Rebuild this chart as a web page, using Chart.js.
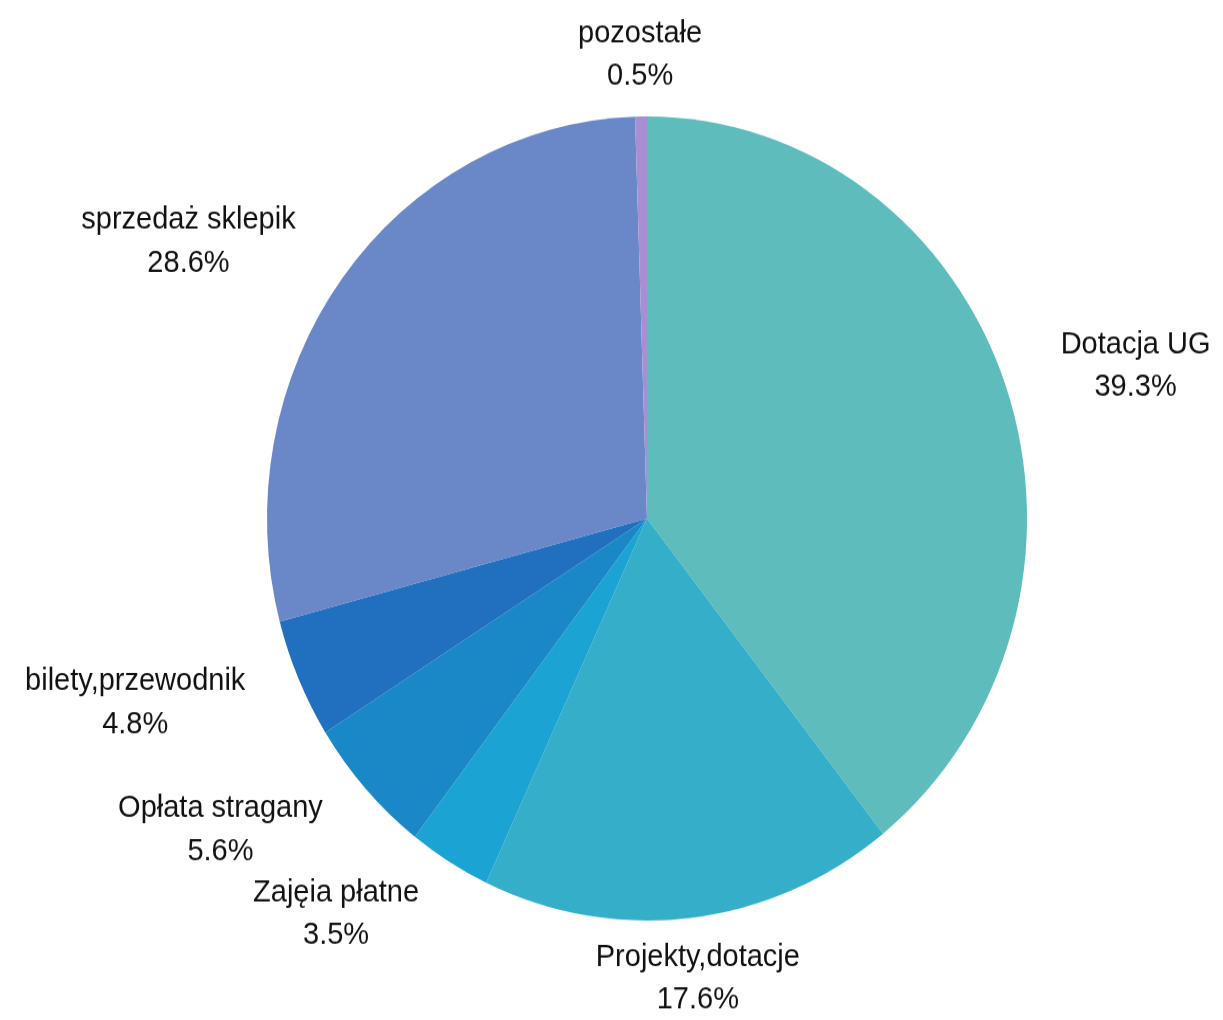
<!DOCTYPE html>
<html>
<head>
<meta charset="utf-8">
<script src="https://cdn.jsdelivr.net/npm/chart.js@4.4.1/dist/chart.umd.min.js"></script>
<style>
  html, body { margin: 0; padding: 0; background: #fff; overflow: hidden; }
  #wrap { width: 1223px; height: 1020px; }
  /* the reference is slightly stretched vertically */
  #pie { display: block; width: 1223px !important; height: 1020px !important; }
</style>
</head>
<body>
<div id="wrap"><canvas id="pie" width="1223" height="964"></canvas></div>
<script>
const categories = [
  "Dotacja UG",
  "Projekty,dotacje",
  "Zajęia płatne",
  "Opłata stragany",
  "bilety,przewodnik",
  "sprzedaż sklepik",
  "pozostałe",
];
const shares = [39.3, 17.6, 3.5, 5.6, 4.8, 28.6, 0.5];
const shareLabels = ["39.3%", "17.6%", "3.5%", "5.6%", "4.8%", "28.6%", "0.5%"];
const colors = ["#5ebcbd", "#34aec9", "#1ba4d3", "#1a87c7", "#2170bf", "#6a87c8", "#a88fd4"];

// labels outside the pie, a fixed gap beyond the rim on each slice's middle angle
const outsideLabels = {
  id: "outsideLabels",
  afterDatasetsDraw(chart) {
    const ctx = chart.ctx;
    const meta = chart.getDatasetMeta(0);
    const gap = 58;
    const lineH = 40.6;
    ctx.save();
    ctx.font = "29px 'Liberation Sans', Arial, sans-serif";
    ctx.fillStyle = "#111";
    ctx.textAlign = "center";
    ctx.textBaseline = "middle";
    meta.data.forEach((arc, i) => {
      const p = arc.getProps(["x", "y", "startAngle", "endAngle", "outerRadius"], true);
      const mid = (p.startAngle + p.endAngle) / 2;
      const dx = Math.cos(mid), dy = Math.sin(mid);
      const ax = p.x + (p.outerRadius + gap) * dx;
      const ay = p.y + (p.outerRadius + gap) * dy;
      const lines = [categories[i], shareLabels[i]];
      const w = Math.max(...lines.map(t => ctx.measureText(t).width));
      let cx = ax;
      if (dx > 0.3) cx = ax + w / 2;
      else if (dx < -0.3) cx = ax - w / 2;
      lines.forEach((t, k) => {
        ctx.fillText(t, cx, ay + (k - 0.5) * lineH);
      });
    });
    ctx.restore();
  },
};

new Chart(document.querySelector("#pie"), {
  type: "pie",
  data: {
    labels: categories,
    datasets: [
      {
        data: shares,
        backgroundColor: colors,
        borderWidth: 0,
      },
    ],
  },
  options: {
    responsive: false,
    animation: false,
    devicePixelRatio: 1,
    layout: { padding: { left: 267, right: 196, top: 110, bottom: 94 } },
    plugins: {
      legend: { display: false },
      tooltip: { enabled: false },
    },
  },
  plugins: [outsideLabels],
});
</script>
</body>
</html>
